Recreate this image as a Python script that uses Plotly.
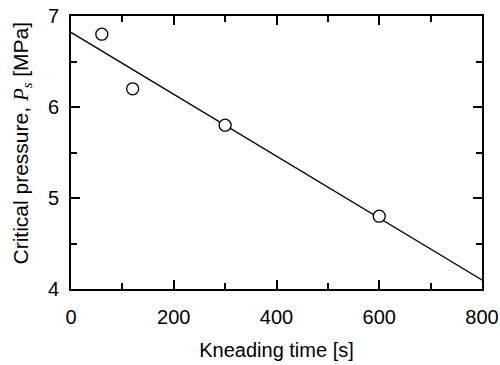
import plotly.graph_objects as go

kneading_time = [60, 120, 300, 600]
critical_pressure = [6.8, 6.2, 5.8, 4.8]
fit_time = [0, 800]
fit_pressure = [6.82, 4.10]
x_ticks = [0, 200, 400, 600, 800]
y_ticks = [4, 5, 6, 7]

FONT = "Liberation Sans, Arial, sans-serif"

fig = go.Figure()
fig.add_trace(go.Scatter(x=fit_time, y=fit_pressure, mode="lines",
                         line=dict(color="black", width=1.3), showlegend=False))
fig.add_trace(go.Scatter(x=kneading_time, y=critical_pressure, mode="markers",
                         marker=dict(symbol="circle", size=12, color="white",
                                     line=dict(color="black", width=1.3)),
                         showlegend=False, cliponaxis=False))

axis_common = dict(showline=True, linecolor="black", linewidth=2, mirror="allticks",
                   ticks="inside", ticklen=9, tickwidth=2, tickcolor="black",
                   showgrid=False, zeroline=False, automargin=False,
                   tickfont=dict(family=FONT, size=20, color="black"))

fig.update_xaxes(range=[0, 800], tickvals=x_ticks, ticklabelstandoff=9,
                 minor=dict(ticks="inside", ticklen=6, tickwidth=2, tickcolor="black", dtick=100, tick0=0, showgrid=False),
                 title=dict(text="Kneading time [s]", font=dict(family=FONT, size=20, color="black"), standoff=16),
                 **axis_common)
fig.update_yaxes(range=[4, 7], tickvals=y_ticks, ticklabelstandoff=6,
                 minor=dict(ticks="inside", ticklen=6, tickwidth=2, tickcolor="black", dtick=0.5, tick0=4, showgrid=False),
                 **axis_common)

fig.add_annotation(
    text="Critical pressure, <span style=\"font-family:Liberation Serif,Times New Roman,serif\"><i>P</i><sub><i>s</i></sub></span> [MPa]",
    xref="paper", yref="paper", x=0, y=0.5, xanchor="center", yanchor="middle",
    xshift=-50, yshift=9, textangle=-90, showarrow=False,
    font=dict(family=FONT, size=21, color="black"))

fig.update_layout(width=500, height=365, margin=dict(l=71, r=18, t=16, b=76),
                  plot_bgcolor="white", paper_bgcolor="white")

fig.write_html("out.html", config={"displayModeBar": False},
               post_script="document.body.style.margin='0';document.body.style.overflow='hidden';")
